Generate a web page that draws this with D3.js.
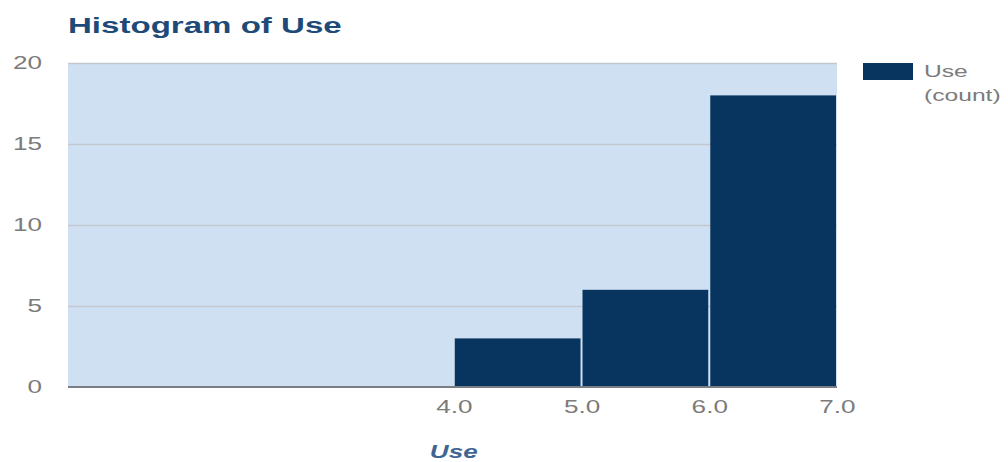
<!DOCTYPE html>
<html>
<head>
<meta charset="utf-8">
<script src="https://cdn.jsdelivr.net/npm/d3@7"></script>
<style>
  html, body { margin: 0; padding: 0; background: #fff; }
  svg { display: block; font-family: "Liberation Sans", Arial, sans-serif; }
</style>
</head>
<body>
<svg id="chart" width="1008" height="462"></svg>
<script>
// ---- data ----
const binStart = [4, 5, 6];
const binEnd   = [5, 6, 7];
const counts   = [3, 6, 18];
const xTickValues = [4, 5, 6, 7];
const xTickLabels = ["4.0", "5.0", "6.0", "7.0"];
const yTickValues = [0, 5, 10, 15, 20];
const titleText = "Histogram of Use";
const xAxisTitle = "Use";
const legendLines = ["Use", "(count)"];

// ---- layout ----
const W = 1008, H = 462;
const plot = { left: 68, right: 837, top: 63, bottom: 387 };
const SX = 1.45; // horizontal text stretch seen in the reference

const svg = d3.select("#chart");

const x = d3.scaleLinear().domain([0.98, 7]).range([plot.left, plot.right]);
const y = d3.scaleLinear().domain([0, 20]).range([plot.bottom, plot.top]);

function stretchedText(g, tx, ty, str, sx) {
  return g.append("text")
    .attr("transform", `translate(${tx},${ty}) scale(${sx || SX},1)`)
    .text(str);
}

// background
svg.append("rect")
  .attr("x", plot.left).attr("y", plot.top)
  .attr("width", plot.right - plot.left).attr("height", plot.bottom - plot.top)
  .attr("fill", "#cfe0f2");

// gridlines
svg.append("g").selectAll("line")
  .data(yTickValues.filter(v => v > 0))
  .join("line")
  .attr("x1", plot.left).attr("x2", plot.right)
  .attr("y1", d => y(d) + 0.5).attr("y2", d => y(d) + 0.5)
  .attr("stroke", "#c3c8ce").attr("stroke-width", 1.4);

// bars
const bars = binStart.map((s, i) => ({ s, e: binEnd[i], c: counts[i] }));
svg.append("g").selectAll("rect")
  .data(bars)
  .join("rect")
  .attr("x", d => x(d.s) + 1)
  .attr("width", d => x(d.e) - x(d.s) - 2)
  .attr("y", d => y(d.c))
  .attr("height", d => y(0) - y(d.c))
  .attr("fill", "#08355f");

// baseline
svg.append("line")
  .attr("x1", plot.left).attr("x2", plot.right)
  .attr("y1", plot.bottom).attr("y2", plot.bottom)
  .attr("stroke", "#7a7f86").attr("stroke-width", 2);

// y axis
const yAxis = svg.append("g")
  .attr("transform", `translate(${plot.left},0)`)
  .call(d3.axisLeft(y).tickValues(yTickValues).tickSize(0).tickPadding(26));
yAxis.select(".domain").remove();
yAxis.selectAll("text")
  .attr("x", -26 / SX)
  .attr("transform", `scale(${SX},1)`)
  .attr("fill", "#7b7b7b")
  .style("font-size", "18px")
  .style("font-family", "'Liberation Sans', Arial, sans-serif");

// x axis
const xAxis = svg.append("g")
  .attr("transform", `translate(0,${plot.bottom})`)
  .call(d3.axisBottom(x).tickValues(xTickValues)
    .tickFormat((d, i) => xTickLabels[i]).tickSize(0).tickPadding(13));
xAxis.select(".domain").remove();
xAxis.selectAll("text")
  .attr("transform", `scale(${SX},1)`)
  .attr("fill", "#7b7b7b")
  .style("font-size", "18px")
  .style("font-family", "'Liberation Sans', Arial, sans-serif");

// title
stretchedText(svg, plot.left, 33, titleText, 1.47)
  .attr("fill", "#1d4a78")
  .style("font-size", "22.5px")
  .style("font-weight", "bold");

// x axis title
stretchedText(svg, x(4), 458, xAxisTitle)
  .attr("text-anchor", "middle")
  .attr("fill", "#3f6693")
  .style("font-size", "18px")
  .style("font-weight", "bold")
  .style("font-style", "italic");

// legend
svg.append("rect")
  .attr("x", 863).attr("y", 63).attr("width", 50).attr("height", 17)
  .attr("fill", "#08355f");
legendLines.forEach((t, i) => {
  stretchedText(svg, 924, 77 + i * 24, t)
    .attr("fill", "#7b7b7b")
    .style("font-size", "17px");
});
</script>
</body>
</html>
